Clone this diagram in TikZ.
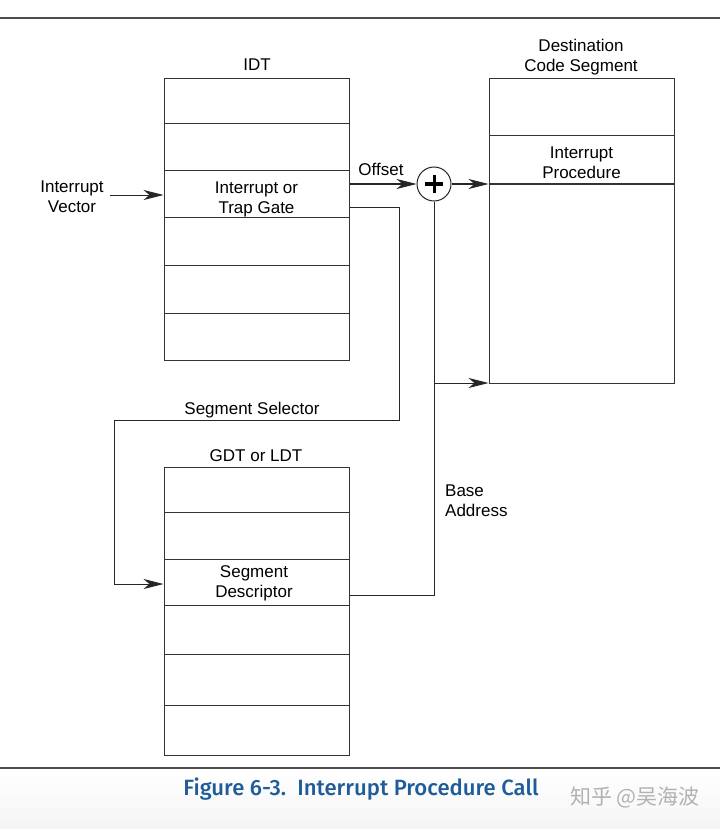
\documentclass[tikz,border=0pt]{standalone}
\usepackage{fontspec}
\usepackage{graphicx}
\setmainfont{Liberation Sans}
\newfontfamily\capfont{Fira Sans Medium}
\newfontfamily\cjk{Noto Sans CJK SC}
\usetikzlibrary{arrows.meta}
\definecolor{capblue}{HTML}{1F5C99}
\tikzset{
  lbl/.style={font=\fontsize{17}{20}\selectfont, inner sep=0pt, align=center},
  tabrow/.style={draw=black!80, line width=1pt, minimum width=185pt, inner sep=0pt},
  conn/.style={draw=black!85, line width=1pt},
  arr/.style={conn, -{Stealth[length=20pt,width=10pt,inset=6pt]}},
}
\begin{document}
\begin{tikzpicture}[x=1pt,y=-1pt]
\useasboundingbox (0,0) rectangle (720,829);
\fill[white] (0,0) rectangle (720,829);
\shade[top color=white, bottom color=black!4] (0,769) rectangle (720,829);
\draw[black!70, line width=1.5pt] (0,18) -- (720,18);
\draw[black!70, line width=1.5pt] (0,768) -- (720,768);

% IDT
\node[lbl] (idtlbl) at (257,65) {IDT};
\node[tabrow, minimum height=45pt] (idt1) at (256.5,101.5) {};
\node[tabrow, minimum height=47pt] (idt2) at (256.5,147.5) {};
\node[tabrow, minimum height=46pt] (idt3) at (256.5,194) {};
\node[tabrow, minimum height=48pt] (idt4) at (256.5,241) {};
\node[tabrow, minimum height=48pt] (idt5) at (256.5,289) {};
\node[tabrow, minimum height=47pt] (idt6) at (256.5,336.5) {};
\node[lbl] (idt3t) at (256.5,199) {Interrupt or\\Trap Gate};

% Destination code segment
\node[lbl] (destlbl) at (581,57) {Destination\\Code Segment};
\node[tabrow, minimum height=57pt] (dest1) at (581.5,107.5) {};
\node[tabrow, minimum height=48pt] (proc) at (581.5,160) {};
\node[tabrow, minimum height=199pt] (dest3) at (581.5,283.5) {};
\node[lbl] (proct) at (581.5,163) {Interrupt\\Procedure};

% GDT
\node[lbl] (gdtlbl) at (256,456) {GDT or LDT};
\node[tabrow, minimum height=45pt] (gdt1) at (256.5,489.5) {};
\node[tabrow, minimum height=47pt] (gdt2) at (256.5,535.5) {};
\node[tabrow, minimum height=46pt] (gdt3) at (256.5,582) {};
\node[tabrow, minimum height=49pt] (gdt4) at (256.5,629.5) {};
\node[tabrow, minimum height=51pt] (gdt5) at (256.5,679.5) {};
\node[tabrow, minimum height=50pt] (gdt6) at (256.5,730) {};
\node[lbl] (gdt3t) at (254,583.5) {Segment\\Descriptor};

% adder
\node[draw=black!85, line width=1pt, circle, minimum size=34pt, inner sep=0pt] (plus) at (434,184) {};
\draw[line width=3pt] ([xshift=-9pt]plus.center) -- ([xshift=9pt]plus.center);
\draw[line width=3pt] ([yshift=-9pt]plus.center) -- ([yshift=9pt]plus.center);

% labels
\node[lbl] (vec) at (72,197) {Interrupt\\Vector};
\node[lbl] (off) at (381,169) {Offset};
\node[lbl] (sel) at (252,410) {Segment Selector};
\node[lbl, anchor=west, align=left] (base) at (445,501) {Base\\Address};

% connectors
\draw[arr] ([yshift=-1pt]idt3.west -| vec.east) ++(6,0) -- ([yshift=-1pt]idt3.west);
\draw[arr] (plus.west -| idt3.east) -- (plus.west);
\draw[arr] (plus.east) -- (plus.east -| proc.west);
\coordinate (selR) at (399,420);
\coordinate (selL) at (114,420);
\draw[arr] ([yshift=-13pt]idt3.east) -| (selR) -- (selL) |- ([yshift=-2pt]gdt3.west);
\draw[conn] ([yshift=-13pt]gdt3.east) -| (plus.south);
\coordinate (br) at (434,383);
\draw[arr] (br) -- (br -| dest3.west);

% caption
\node[inner sep=0pt, text=capblue] (cap) at (361,789) {\resizebox{355pt}{!}{\capfont\fontsize{22}{24}\selectfont Figure 6-3.\ \ Interrupt Procedure Call}};
\node[inner sep=0pt, text=black!30] (wm) at (635,797) {\cjk\fontsize{21}{24}\selectfont 知乎 @吴海波};
\end{tikzpicture}
\end{document}
